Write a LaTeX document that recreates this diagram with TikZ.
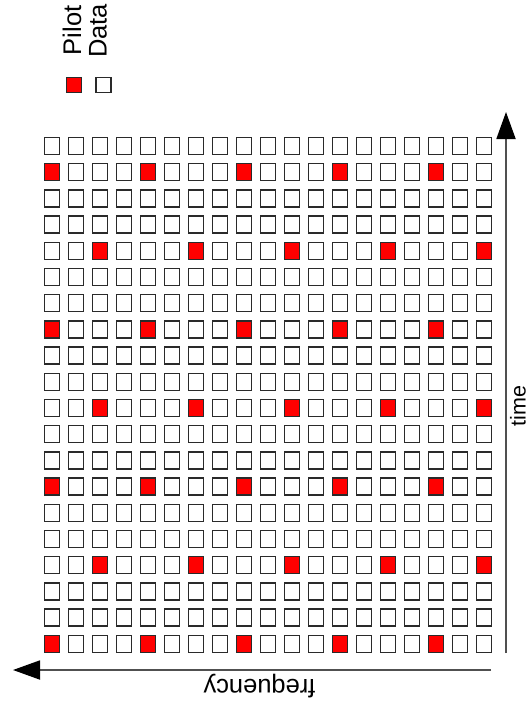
\documentclass[tikz,border=0pt]{standalone}
\usepackage{fontspec}
\setmainfont{Liberation Sans}
\usetikzlibrary{arrows.meta}
\definecolor{edge}{HTML}{2A2A2A}
\definecolor{axisgray}{HTML}{505050}
\begin{document}
\begin{tikzpicture}[x=1pt,y=-1pt,
  cell/.style={draw=edge, line width=1.5pt, minimum width=15pt, minimum height=17pt, inner sep=0pt, outer sep=0pt, fill=white},
  pilot/.style={cell, fill=red},
  legendbox/.style={draw=edge, line width=1.5pt, minimum width=15pt, minimum height=15pt, inner sep=0pt, outer sep=0pt},
  axis/.style={draw=axisgray, line width=1.8pt, -{Triangle[length=27pt,width=19pt,color=black]}},
  lbl/.style={inner sep=0pt, outer sep=0pt, font=\fontsize{25.5}{30}\selectfont}]
\useasboundingbox (0,0) rectangle (529,715);
% legend
\node[lbl, rotate=90] (pilotlbl) at (72,30.5) {Pilot};
\node[lbl, rotate=90] (datalbl) at (98,31) {Data};
\node[legendbox, fill=red] (legpilot) at (74,85) {};
\node[legendbox, fill=white] (legdata) at (103.3,85) {};
% grid
\foreach \j in {0,...,19}{
  \foreach \i in {0,...,18}{
    \pgfmathtruncatemacro\off{mod(int((\j+2)/3)-1,2)*2}
    \pgfmathtruncatemacro\p{(mod(\j,3)==1) && (mod(\i,4)==\off)}
    \ifnum\p=1
      \node[pilot] (c-\i-\j) at ({52+24*\i},{146+26.2*\j}) {};
    \else
      \node[cell] (c-\i-\j) at ({52+24*\i},{146+26.2*\j}) {};
    \fi
  }
}
% axes
\coordinate (vstart) at (506,653);
\coordinate (vend) at (506,112);
\coordinate (hstart) at (491,670);
\coordinate (hend) at (13,670);
\draw[axis] (vstart) -- (vend);
\draw[axis] (hstart) -- (hend);
\node[lbl, rotate=90, font=\fontsize{21.5}{26}\selectfont] (timelbl) at (518,406) {time};
\node[lbl, rotate=180] (freqlbl) at (259.5,686) {frequency};
\end{tikzpicture}
\end{document}
